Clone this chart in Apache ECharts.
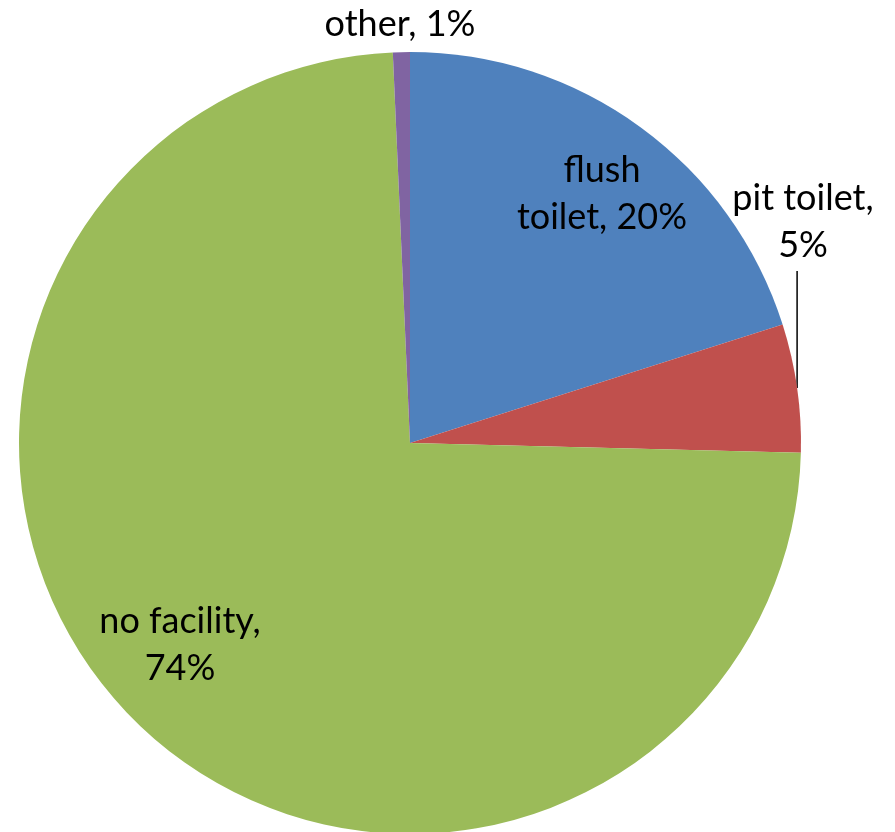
<!DOCTYPE html>
<html lang="en">
<head>
    <meta charset="UTF-8">
    <script src="https://cdn.jsdelivr.net/npm/echarts@6/dist/echarts.min.js"></script>
    <style>
        html, body { margin: 0; padding: 0; background: #fff; }
        #pic { width: 895px; height: 832px; }
    </style>
    <title>toilet facilities</title>
</head>
<body>
<div id="pic"></div>
<script type="text/javascript">
    // data
    var categories = ['flush toilet', 'pit toilet', 'no facility', 'other'];
    var values = [20.1, 5.3, 73.9, 0.7];
    var labelText = ['flush\ntoilet, ', 'pit toilet,\n', 'no facility,\n', 'other, '];
    var colors = ['#4F81BD', '#C0504D', '#9BBB59', '#8064A2'];

    // where each label sits (centre of text block)
    var labelPos = [[602, 194], [803, 222], [180, 645], [400, 24]];

    var chartDom = document.getElementById('pic');
    var myChart = echarts.init(chartDom);

    var seriesData = categories.map(function (c, i) {
        return {
            name: c,
            value: values[i],
            itemStyle: { color: colors[i] },
            label: { position: (i == 0 || i == 2) ? 'inside' : 'outside' },
            labelLine: { show: i == 1 }
        };
    });

    var option = {
        animation: false,
        series: [{
            type: 'pie',
            center: [410, 443],
            radius: 391,
            startAngle: 90,
            clockwise: true,
            data: seriesData,
            itemStyle: { borderWidth: 0 },
            label: {
                show: true,
                color: '#000',
                fontFamily: 'Lato',
                fontSize: 36,
                lineHeight: 47,
                align: 'center',
                overflow: 'none',
                width: 300,
                formatter: function (p) {
                    return labelText[p.dataIndex] + Math.round(p.percent) + '%';
                }
            },
            labelLine: {
                show: false,
                length: 0,
                length2: 0,
                lineStyle: { color: '#000', width: 1.5 }
            },
            labelLayout: function (params) {
                var p = labelPos[params.dataIndex];
                var res = { x: p[0], y: p[1], align: 'center', verticalAlign: 'middle' };
                var pts = params.labelLinePoints;
                if (params.dataIndex == 1 && pts && pts.length) {
                    // straight vertical leader from the slice edge up to the label
                    var start = pts[0];
                    var endY = p[1] + params.labelRect.height / 2 + 2;
                    res.labelLinePoints = [[start[0], start[1]], [start[0], endY], [start[0], endY]];
                }
                return res;
            }
        }]
    };

    myChart.setOption(option);
</script>
</body>
</html>
